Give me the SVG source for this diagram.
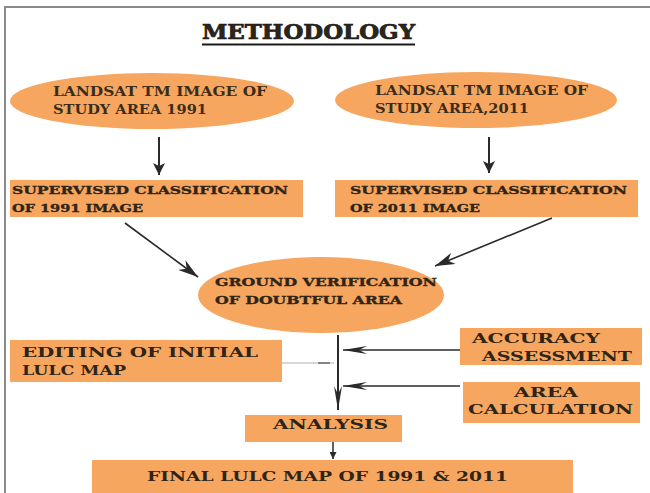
<svg xmlns="http://www.w3.org/2000/svg" width="650" height="493" viewBox="0 0 650 493">
<style>
.box{fill:#F6A65E;}
.t{font-family:"DejaVu Serif","Liberation Serif",serif;font-weight:bold;fill:#2e2418;}
.e{font-family:"DejaVu Serif","Liberation Serif",serif;font-weight:bold;fill:#3a2c1c;font-size:12.5px;}
.c{stroke:#2a2a2a;fill:none;}
</style>
<defs>
<marker id="solid" markerWidth="12" markerHeight="12" refX="12" refY="6" orient="auto" markerUnits="userSpaceOnUse" viewBox="0 0 12 12">
<path d="M0,0 L12,6 L0,12 L3,6 z" fill="#2a2a2a"/>
</marker>
<marker id="barb" markerWidth="20" markerHeight="12" refX="20" refY="6" orient="auto" markerUnits="userSpaceOnUse" viewBox="0 0 20 12">
<path d="M0,0 L20,6 L0,12 L6,6 z" fill="#2a2a2a"/>
</marker>
<marker id="long" markerWidth="24" markerHeight="8" refX="24" refY="4" orient="auto" markerUnits="userSpaceOnUse" viewBox="0 0 24 8">
<path d="M0,0 L24,4 L0,8 L8,4 z" fill="#2a2a2a"/>
</marker>
<marker id="small" markerWidth="7" markerHeight="7" refX="7" refY="3.5" orient="auto" markerUnits="userSpaceOnUse" viewBox="0 0 7 7">
<path d="M0,0 L7,3.5 L0,7 z" fill="#2a2a2a"/>
</marker>
</defs>
<rect width="650" height="493" fill="#ffffff"/>
<path d="M5,493 V7 H650" fill="none" stroke="#8a8a8a" stroke-width="2"/>

<g id="title">
<text class="t" x="202" y="39" font-size="20" textLength="213" lengthAdjust="spacingAndGlyphs" fill="#1a1a1a" stroke="#1a1a1a" stroke-width="0.7">METHODOLOGY</text>
<line x1="202" y1="44.5" x2="415" y2="44.5" stroke="#1a1a1a" stroke-width="2"/>
</g>

<g id="landsat1991">
<ellipse class="box" cx="152" cy="101" rx="142" ry="28"/>
<text class="e" x="53" y="96" textLength="214" lengthAdjust="spacingAndGlyphs">LANDSAT TM IMAGE OF</text>
<text class="e" x="53" y="114" textLength="154" lengthAdjust="spacingAndGlyphs">STUDY AREA 1991</text>
</g>

<g id="landsat2011">
<ellipse class="box" cx="476" cy="100" rx="141" ry="28"/>
<text class="e" x="375" y="95" textLength="213" lengthAdjust="spacingAndGlyphs">LANDSAT TM IMAGE OF</text>
<text class="e" x="375" y="113" textLength="154" lengthAdjust="spacingAndGlyphs">STUDY AREA,2011</text>
</g>

<g id="supervised1991">
<rect class="box" x="10" y="180" width="293" height="37"/>
<text class="t" x="12" y="194" font-size="10.5" textLength="276" lengthAdjust="spacingAndGlyphs" stroke="#2e2418" stroke-width="0.3">SUPERVISED CLASSIFICATION</text>
<text class="t" x="12" y="212" font-size="10.5" textLength="131" lengthAdjust="spacingAndGlyphs" stroke="#2e2418" stroke-width="0.3">OF 1991 IMAGE</text>
</g>

<g id="supervised2011">
<rect class="box" x="335" y="180" width="303" height="37"/>
<text class="t" x="350" y="194" font-size="10.5" textLength="277" lengthAdjust="spacingAndGlyphs" stroke="#2e2418" stroke-width="0.3">SUPERVISED CLASSIFICATION</text>
<text class="t" x="350" y="212" font-size="10.5" textLength="130" lengthAdjust="spacingAndGlyphs" stroke="#2e2418" stroke-width="0.3">OF 2011 IMAGE</text>
</g>

<g id="ground">
<ellipse class="box" cx="321" cy="295" rx="123" ry="38"/>
<text class="t" x="215" y="286" font-size="10.5" textLength="222" lengthAdjust="spacingAndGlyphs" stroke="#2e2418" stroke-width="0.3">GROUND VERIFICATION</text>
<text class="t" x="215" y="304" font-size="10.5" textLength="187" lengthAdjust="spacingAndGlyphs" stroke="#2e2418" stroke-width="0.3">OF DOUBTFUL AREA</text>
</g>

<g id="editing">
<rect class="box" x="10" y="340" width="272" height="42"/>
<text class="t" x="22" y="357" font-size="13" textLength="236" lengthAdjust="spacingAndGlyphs">EDITING OF INITIAL</text>
<text class="t" x="22" y="375" font-size="13" textLength="104" lengthAdjust="spacingAndGlyphs">LULC MAP</text>
</g>

<g id="accuracy">
<rect class="box" x="460" y="328" width="182" height="37"/>
<text class="t" x="472" y="343" font-size="12.5" textLength="128" lengthAdjust="spacingAndGlyphs">ACCURACY</text>
<text class="t" x="482" y="361" font-size="12.5" textLength="150" lengthAdjust="spacingAndGlyphs">ASSESSMENT</text>
</g>

<g id="area">
<rect class="box" x="463" y="382" width="177" height="41"/>
<text class="t" x="514" y="397" font-size="12.5" textLength="64" lengthAdjust="spacingAndGlyphs">AREA</text>
<text class="t" x="468" y="414" font-size="12.5" textLength="165" lengthAdjust="spacingAndGlyphs">CALCULATION</text>
</g>

<g id="analysis">
<rect class="box" x="245" y="415" width="157" height="27"/>
<text class="t" x="273" y="429" font-size="12" textLength="115" lengthAdjust="spacingAndGlyphs">ANALYSIS</text>
</g>

<g id="final">
<rect class="box" x="92" y="460" width="481" height="33"/>
<text class="t" x="147" y="481" font-size="12.5" textLength="361" lengthAdjust="spacingAndGlyphs">FINAL LULC MAP OF 1991 &amp; 2011</text>
</g>

<g id="connectors">
<line class="c" x1="159" y1="137" x2="159" y2="175" stroke-width="2" marker-end="url(#solid)"/>
<line class="c" x1="489" y1="137" x2="489" y2="173" stroke-width="2" marker-end="url(#solid)"/>
<line class="c" x1="125" y1="223" x2="198" y2="277" stroke-width="1.6" marker-end="url(#barb)"/>
<line class="c" x1="552" y1="218" x2="435" y2="266" stroke-width="1.6" marker-end="url(#barb)"/>
<line class="c" x1="338" y1="335" x2="338" y2="410" stroke-width="2" marker-end="url(#long)"/>
<line class="c" x1="460" y1="350" x2="343" y2="350" stroke-width="1.6" marker-end="url(#long)"/>
<line class="c" x1="460" y1="386" x2="343" y2="386" stroke-width="1.6" marker-end="url(#long)"/>
<line x1="282" y1="363" x2="334" y2="363" stroke="#b0b0b0" stroke-width="1"/>
<line x1="318" y1="363" x2="330" y2="363" stroke="#6a6a6a" stroke-width="1.5"/>
<line class="c" x1="333" y1="442" x2="333" y2="459" stroke-width="1.5" marker-end="url(#small)"/>
</g>
</svg>
